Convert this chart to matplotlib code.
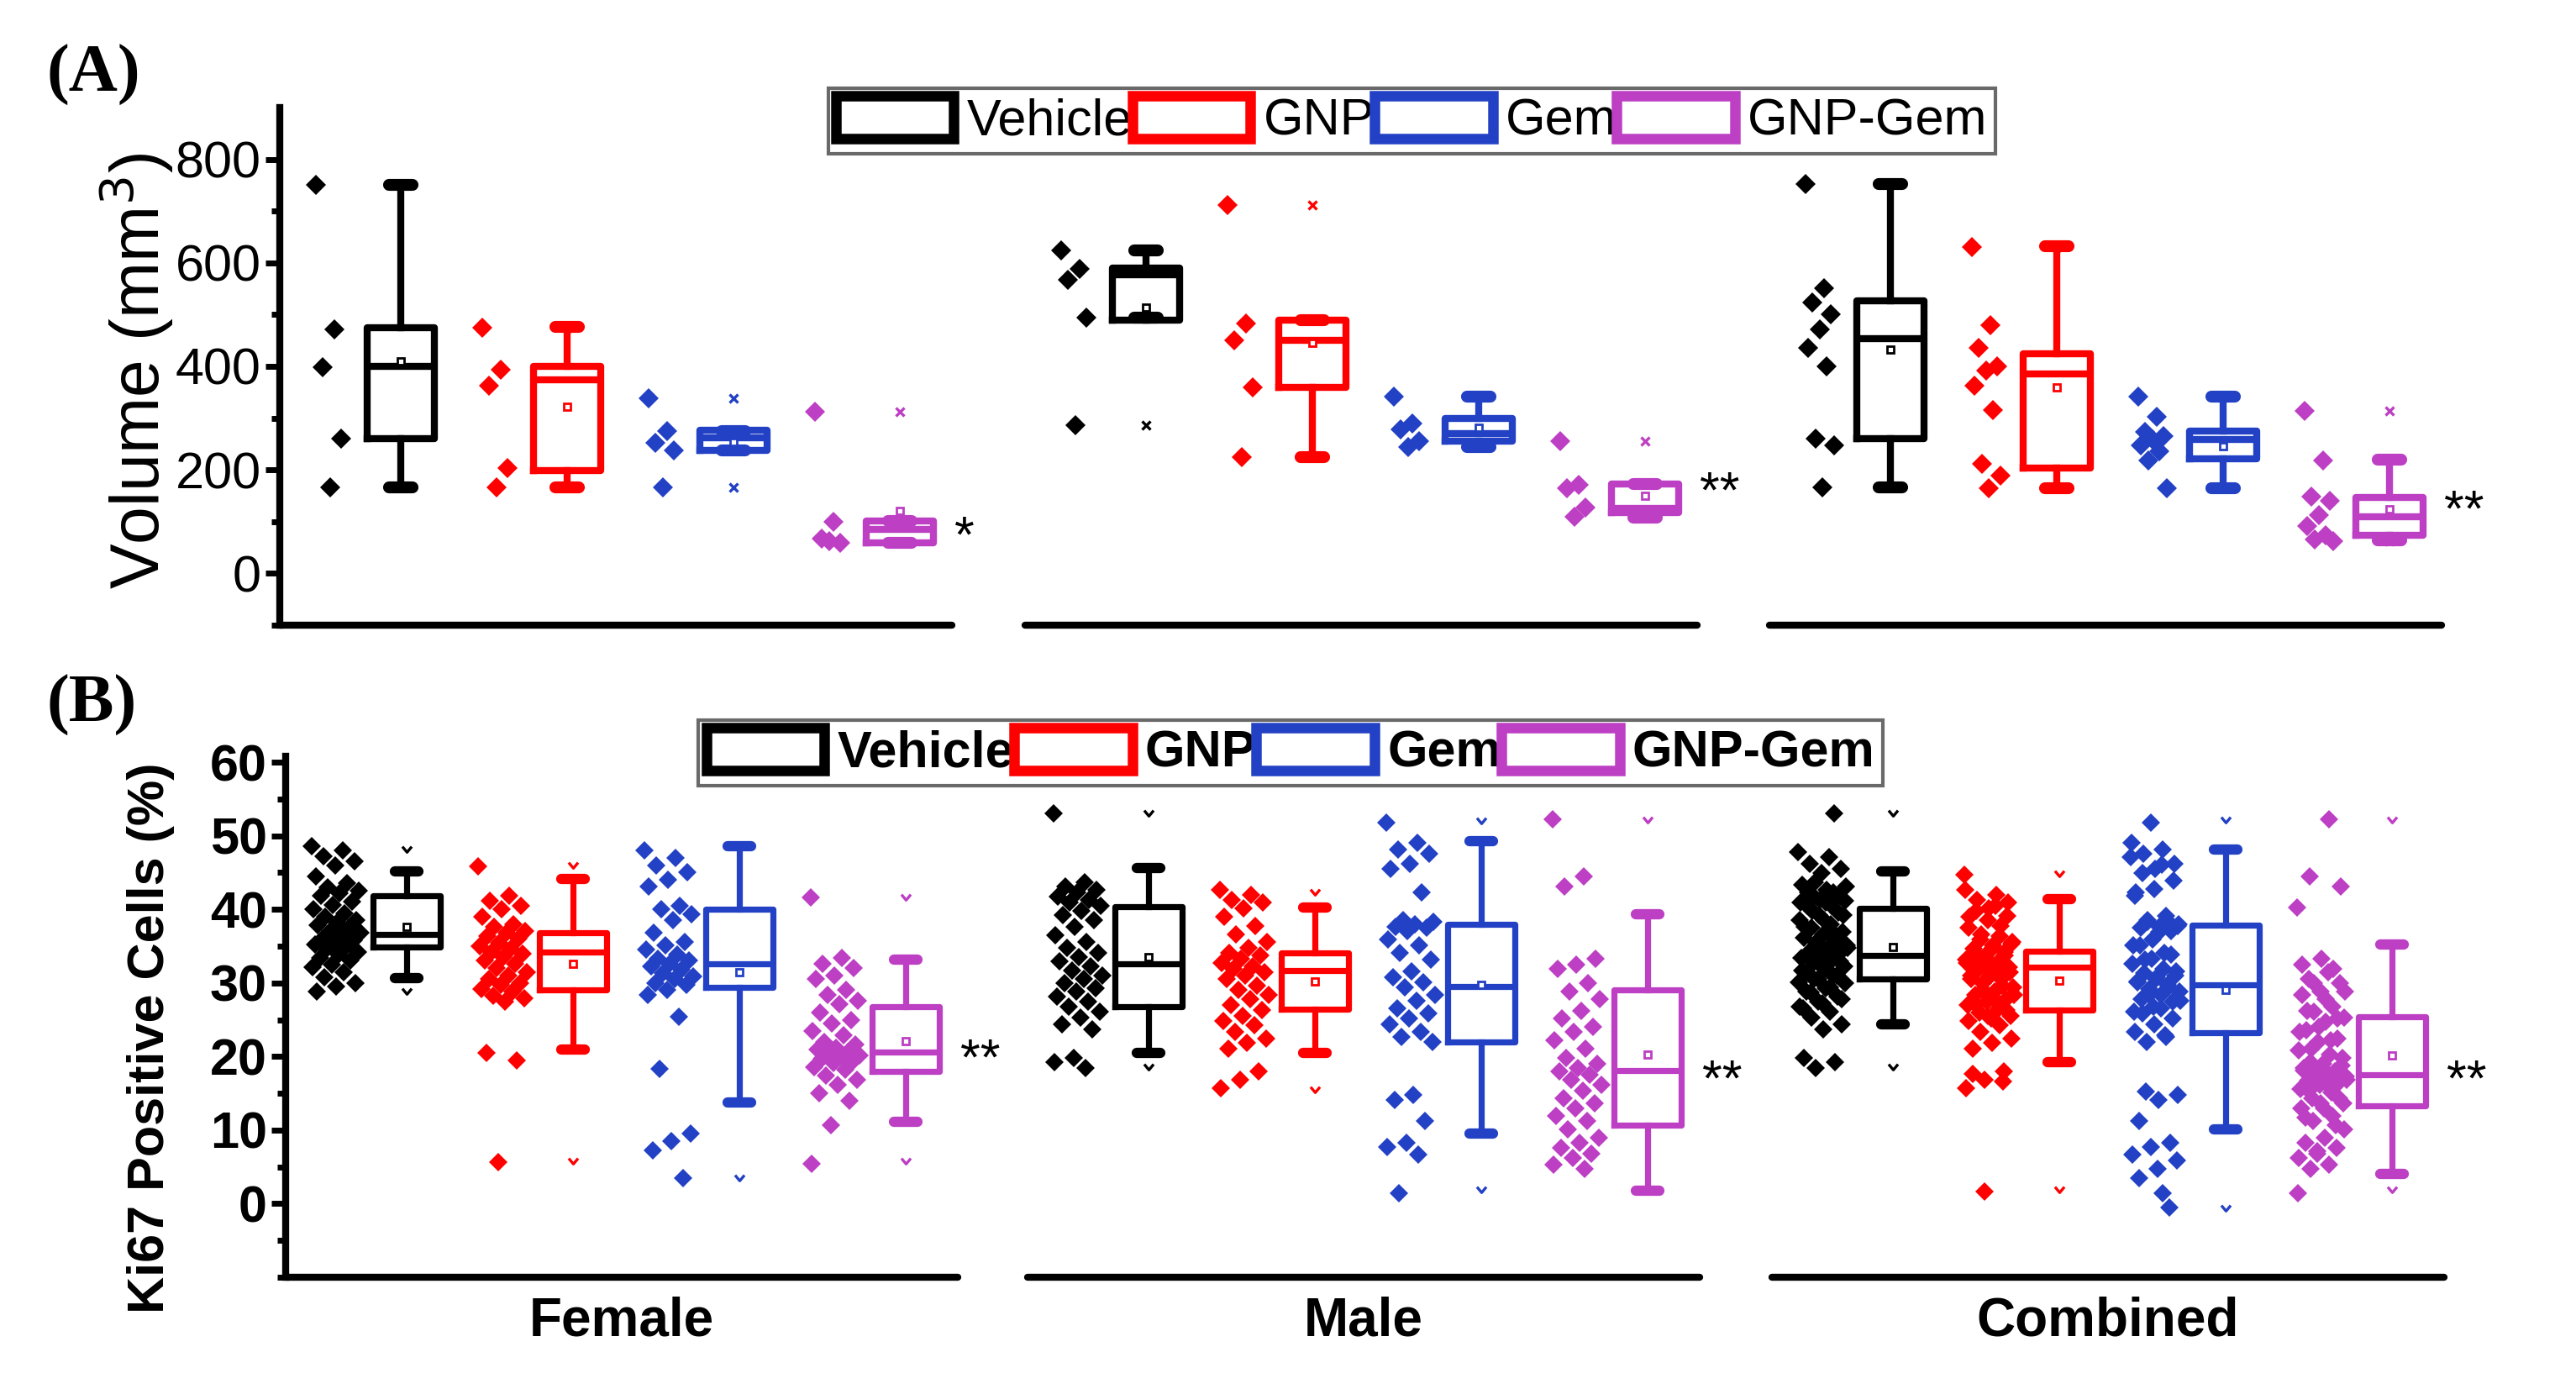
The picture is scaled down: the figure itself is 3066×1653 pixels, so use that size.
import numpy as np
import matplotlib.pyplot as plt
from matplotlib.patches import Patch

plt.rcParams['font.family'] = ['Liberation Sans', 'DejaVu Sans']

# -----------------------------
# Groups and colours
# -----------------------------
groups = ['Vehicle', 'GNP', 'Gem', 'GNP-Gem']
colors = ['#000000', '#ff0000', '#2341c4', '#bd3fc4']
sexes = ['Female', 'Male', 'Combined']

# -----------------------------
# Panel A: tumour volume (mm^3), one list per treatment
# -----------------------------
vol_female = [[751, 471, 398, 261, 166],
              [475, 394, 362, 204, 166],
              [339, 275, 253, 238, 166],
              [313, 99, 67, 59, 63]]
vol_male = [[624, 588, 567, 494, 287],
            [711, 483, 450, 359, 224],
            [341, 290, 279, 255, 244],
            [256, 171, 164, 127, 109]]
vol_combined = [[752, 551, 523, 501, 472, 436, 400, 261, 247, 167],
                [630, 480, 436, 400, 392, 363, 316, 211, 189, 164],
                [341, 302, 273, 265, 258, 247, 236, 218, 164],
                [314, 218, 149, 141, 113, 92, 73, 66, 62]]

# box statistics: rows = Female, Male, Combined
vol_q1 = [[261, 198, 237, 59], [490, 359, 255, 118], [261, 203, 222, 73]]
vol_med = [[400, 374, 262, 85], [577, 450, 270, 125], [454, 385, 258, 109]]
vol_q3 = [[475, 400, 277, 102], [590, 490, 300, 172], [526, 425, 275, 146]]
vol_lo = [[166, 166, 238, 59], [494, 224, 244, 108], [167, 164, 164, 64]]
vol_hi = [[751, 477, 275, 102], [624, 490, 341, 172], [752, 632, 341, 219]]
vol_mean = [[409, 322, 254, 120], [514, 445, 282, 150], [432, 359, 245, 124]]
vol_min = [[166, 166, 166, 59], [287, 224, 244, 109], [167, 164, 164, 62]]
vol_max = [[751, 475, 339, 313], [624, 711, 341, 256], [752, 630, 341, 314]]
vol_sig = ['*', '**', '**']
vol_sig_y = [67, 153, 117]

# -----------------------------
# Panel B: Ki67 positive cells (%)
# -----------------------------
ki_female = [
    [48.6, 48.0, 47.2, 46.5, 46.0, 44.5, 43.5, 43.0, 42.5, 42.2, 41.8, 41.0,
     40.6, 40.0, 39.5, 39.0, 38.5, 38.2, 37.8, 37.5, 37.0, 36.8, 36.5, 36.0,
     35.8, 35.5, 35.2, 35.0, 34.6, 34.2, 33.8, 33.4, 33.0, 32.5, 32.1, 31.5,
     30.8, 30.0, 29.5, 28.8],
    [45.8, 41.8, 41.2, 40.5, 40.0, 39.0, 38.0, 37.6, 37.0, 36.8, 36.4, 36.0,
     35.5, 35.0, 34.6, 34.2, 34.0, 33.5, 33.0, 32.6, 32.0, 31.5, 31.0, 30.5,
     30.0, 29.7, 29.2, 28.8, 28.3, 27.9, 27.5, 20.5, 19.5, 5.6],
    [48.0, 47.0, 46.0, 45.0, 44.0, 43.1, 40.5, 40.0, 39.3, 38.5, 36.8, 35.6,
     35.1, 34.5, 33.8, 33.3, 33.0, 32.6, 32.2, 31.8, 31.3, 30.9, 30.5, 30.0,
     29.7, 29.0, 28.4, 25.4, 18.3, 9.5, 8.5, 7.3, 3.5],
    [41.6, 33.4, 32.6, 32.0, 31.0, 30.5, 29.0, 28.4, 27.6, 27.1, 26.0, 25.0,
     24.5, 23.5, 22.9, 22.0, 21.6, 21.2, 20.9, 20.6, 20.4, 20.2, 20.0, 19.7,
     19.4, 19.1, 18.6, 18.2, 17.4, 16.8, 16.1, 15.0, 14.0, 10.7, 5.4]]
ki_male = [
    [53.6, 44.8, 44.3, 43.8, 43.5, 43.0, 42.6, 42.2, 41.8, 41.2, 40.6, 40.0,
     39.2, 38.1, 37.2, 36.5, 35.9, 35.3, 34.8, 34.2, 33.6, 33.0, 32.6, 32.0,
     31.4, 30.9, 30.3, 29.7, 29.0, 28.4, 27.6, 26.8, 26.2, 22.5, 22.0, 21.2],
    [43.9, 43.2, 42.6, 42.2, 41.5, 40.4, 39.3, 38.2, 37.2, 36.5, 35.9, 35.5,
     35.1, 34.6, 34.2, 33.8, 33.4, 33.0, 32.5, 31.7, 31.2, 30.5, 30.0, 29.2,
     28.6, 27.9, 27.2, 26.7, 25.8, 25.0, 24.4, 23.7, 20.8, 19.8, 18.7],
    [52.4, 49.8, 49.0, 48.4, 47.2, 46.5, 43.5, 40.0, 39.8, 39.5, 39.2, 39.0,
     38.6, 37.6, 36.8, 35.9, 35.0, 33.5, 32.8, 32.1, 31.5, 30.5, 29.8, 28.8,
     28.2, 27.5, 26.8, 25.8, 25.2, 24.5, 17.8, 17.2, 14.5, 11.8, 11.2, 10.3,
     5.4],
    [52.8, 45.6, 44.3, 35.1, 34.4, 33.8, 32.0, 30.9, 30.0, 28.5, 27.5, 26.5,
     25.8, 24.8, 23.7, 22.5, 21.8, 21.2, 20.8, 20.4, 19.8, 19.1, 18.4, 17.4,
     16.8, 16.1, 15.2, 14.5, 13.5, 12.4, 11.8, 11.1, 10.4, 9.8, 9.0, 8.5]]
# combined = both sexes pooled
ki_combined = [f + m for f, m in zip(ki_female, ki_male)]

ki_q1 = [[34.9, 29.0, 29.4, 18.0], [29.0, 28.7, 24.6, 14.0], [32.5, 28.6, 25.7, 16.4]]
ki_med = [[36.6, 34.2, 32.6, 20.6], [34.5, 33.6, 31.6, 20.9], [35.5, 34.0, 31.8, 20.4]]
ki_q3 = [[41.8, 36.8, 40.0, 26.8], [41.7, 35.9, 39.5, 31.2], [41.5, 36.1, 39.4, 27.7]]
ki_lo = [[30.7, 21.0, 13.7, 11.1], [23.2, 23.2, 12.9, 5.7], [26.8, 22.0, 13.5, 7.8]]
ki_hi = [[45.2, 44.1, 48.6, 33.2], [46.6, 41.6, 50.0, 40.8], [46.2, 42.7, 49.0, 36.9]]
ki_mean = [[37.6, 32.6, 31.4, 22.1], [35.3, 32.2, 31.8, 23.0], [36.6, 32.3, 31.2, 22.8]]
ki_min = [[28.8, 5.8, 3.5, 5.8], [21.3, 18.5, 5.8, 5.7], [21.3, 5.8, 3.4, 5.8]]
ki_max = [[48.1, 46.0, 48.6, 41.6], [53.6, 43.5, 52.6, 52.7], [53.6, 45.9, 52.7, 52.7]]
ki_sig = ['**', '**', '**']
ki_sig_y = [19.3, 19.4, 19.4]

positions = np.arange(1, 5)
vee = [(-1.0, 0.7), (0.0, -0.5), (1.0, 0.7)]


def jitter(n, spread):
    # deterministic spread of the points beside each box
    k = np.arange(n)
    return spread * 2 * (((k * 0.618034) % 1.0) - 0.5)


def draw_panel(axes, points, q1, med, q3, lo, hi, mean, mn, mx, sig, sig_y,
               lw, ms, spread, ext_marker, ext_ms):
    for s, ax in enumerate(axes):
        for g in range(4):
            c = colors[g]
            vals = np.array(points[s][g])
            xs = positions[g] - 0.42 + jitter(len(vals), spread)
            ax.plot(xs, vals, ls='none', marker='D', ms=ms, color=c, mew=0)
            st = dict(q1=q1[s][g], med=med[s][g], q3=q3[s][g],
                      whislo=lo[s][g], whishi=hi[s][g], mean=mean[s][g],
                      fliers=[])
            ax.bxp([st], positions=[positions[g]], widths=0.4,
                   showmeans=True, showfliers=False, capwidths=0.14,
                   boxprops=dict(color=c, lw=lw),
                   whiskerprops=dict(color=c, lw=lw),
                   capprops=dict(color=c, lw=lw * 1.7, solid_capstyle='round'),
                   medianprops=dict(color=c, lw=lw),
                   meanprops=dict(marker='s', ms=3, mfc='white', mec=c, mew=1))
            ax.plot([positions[g]] * 2, [mn[s][g], mx[s][g]], ls='none',
                    marker=ext_marker, ms=ext_ms, color=c, mfc='none', mew=1.2)
        ax.text(4.33, sig_y[s], sig[s], fontsize=22, ha='left', va='center')


# -----------------------------
# Figure
# -----------------------------
fig = plt.figure(figsize=(15.33, 8.265), dpi=200)
W, H = 3066, 1653
lefts_a = [333, 1220, 2106]
lefts_b = [340, 1223, 2109]
ax_a = [fig.add_axes([l / W, 1 - 744 / H, 800 / W, (744 - 128) / H]) for l in lefts_a]
ax_b = [fig.add_axes([l / W, 1 - 1520 / H, 800 / W, (1520 - 900) / H]) for l in lefts_b]

draw_panel(ax_a, [vol_female, vol_male, vol_combined], vol_q1, vol_med, vol_q3,
           vol_lo, vol_hi, vol_mean, vol_min, vol_max, vol_sig, vol_sig_y,
           lw=3.0, ms=6.2, spread=0.09, ext_marker='x', ext_ms=3.5)
draw_panel(ax_b, [ki_female, ki_male, ki_combined], ki_q1, ki_med, ki_q3,
           ki_lo, ki_hi, ki_mean, ki_min, ki_max, ki_sig, ki_sig_y,
           lw=2.6, ms=5.6, spread=0.15, ext_marker=vee, ext_ms=4)

for row, ylim, major, minor, bold in [(ax_a, (-100, 900), 200, 100, False),
                                      (ax_b, (-5.3, 60.8), 10, 5, True)]:
    for j, ax in enumerate(row):
        ax.set_xlim(0.273, 4.313)
        ax.set_ylim(*ylim)
        ax.set_xticks([])
        for side in ['top', 'right']:
            ax.spines[side].set_visible(False)
        ax.spines['bottom'].set_linewidth(3)
        ax.spines['bottom'].set_capstyle('round')
        ax.patch.set_alpha(0)
        if j == 0:
            ax.spines['left'].set_linewidth(3)
            ax.set_yticks(np.arange(0, ylim[1], major))
            ax.set_yticks(np.arange(ylim[0] - ylim[0] % minor, ylim[1], minor), minor=True)
            ax.tick_params(axis='y', which='major', length=6, width=2.5, pad=2,
                           labelsize=22)
            ax.tick_params(axis='y', which='minor', length=3.5, width=2.5)
            if bold:
                for t in ax.get_yticklabels():
                    t.set_fontweight('bold')
        else:
            ax.spines['left'].set_visible(False)
            ax.set_yticks([])

for ax, name in zip(ax_b, sexes):
    ax.set_xlabel(name, fontsize=23, fontweight='bold', labelpad=8)

fig.text(0.053, 0.733, 'Volume (mm$^3$)', rotation=90, fontsize=29,
         ha='center', va='center')
fig.text(0.0587, 0.253, 'Ki67 Positive Cells (%)', rotation=90, fontsize=22,
         fontweight='bold', ha='center', va='center')
fig.text(0.018, 0.946, '(A)', fontsize=29, fontweight='bold',
         family='Liberation Serif', ha='left', va='center')
fig.text(0.018, 0.492, '(B)', fontsize=29, fontweight='bold',
         family='Liberation Serif', ha='left', va='center')

handles = [Patch(facecolor='white', edgecolor=c, linewidth=4.5) for c in colors]
for anchor, weight in [((0.548, 0.913), 'normal'), ((0.501, 0.458), 'bold')]:
    leg = fig.legend(handles, groups, ncol=4, loc='center', bbox_to_anchor=anchor,
                     frameon=True, fancybox=False, edgecolor='#444444',
                     prop=dict(size=22, weight=weight), handlelength=2.3,
                     handleheight=0.9, handletextpad=0.25, columnspacing=0.0,
                     borderpad=0.15, borderaxespad=0)
    leg.get_frame().set_linewidth(1.5)

fig.savefig('out.png', dpi=200)
